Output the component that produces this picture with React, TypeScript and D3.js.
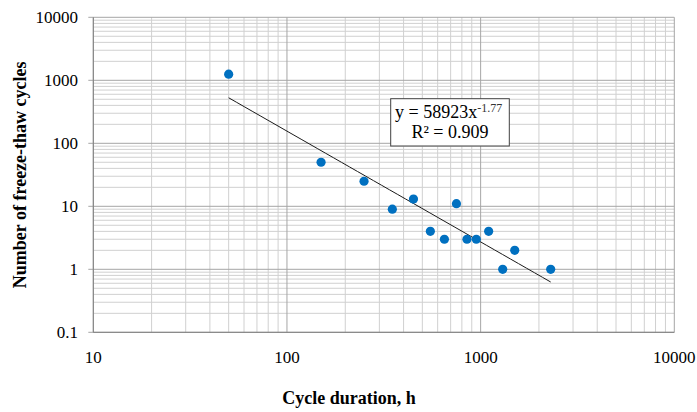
import React from "react";
import * as d3 from "d3";

// Cycle duration (h) and the number of freeze-thaw cycles observed
const cycleDuration = [50, 150, 250, 350, 450, 550, 650, 750, 850, 950, 1100, 1300, 1500, 2300];
const freezeThawCycles = [1250, 50, 25, 9, 13, 4, 3, 11, 3, 3, 4, 1, 2, 1];

const xTicks = [10, 100, 1000, 10000];
const yTicks = [0.1, 1, 10, 100, 1000, 10000];

const equationMain = "y = 58923x";
const equationExp = "-1.77";
const rSquaredText = "R² = 0.909";

const xTitle = "Cycle duration, h";
const yTitle = "Number of freeze-thaw cycles";

const W = 697;
const H = 412;
const plot = { left: 93.3, right: 674.3, top: 17.3, bottom: 332.3 };
const FONT = "Liberation Serif, Times New Roman, serif";

// Least-squares power-law fit (linear regression in log-log space)
function powerFit(xs: number[], ys: number[]) {
  const lx = xs.map(Math.log10);
  const ly = ys.map(Math.log10);
  const mx = d3.mean(lx)!;
  const my = d3.mean(ly)!;
  let sxy = 0;
  let sxx = 0;
  lx.forEach((v, i) => {
    sxy += (v - mx) * (ly[i] - my);
    sxx += (v - mx) * (v - mx);
  });
  const b = sxy / sxx;
  const a = Math.pow(10, my - b * mx);
  return { a, b };
}

export default function App() {
  const x = d3.scaleLog().domain([10, 10000]).range([plot.left, plot.right]);
  const y = d3.scaleLog().domain([0.1, 10000]).range([plot.bottom, plot.top]);

  const minorX: number[] = [];
  for (const d of [10, 100, 1000]) for (let k = 2; k <= 9; k++) minorX.push(d * k);
  const minorY: number[] = [];
  for (const d of [0.1, 1, 10, 100, 1000]) for (let k = 2; k <= 9; k++) minorY.push(d * k);

  const fit = powerFit(cycleDuration, freezeThawCycles);
  const x0 = d3.min(cycleDuration)!;
  const x1 = d3.max(cycleDuration)!;
  const trendPts: [number, number][] = d3
    .range(0, 41)
    .map((i) => x0 * Math.pow(x1 / x0, i / 40))
    .map((v) => [x(v), y(fit.a * Math.pow(v, fit.b))]);
  const trendPath = d3.line()(trendPts) || "";

  const minorColor = "#d0d0d0";
  const majorColor = "#a6a6a6";
  const textStyle = { fontFamily: FONT };

  return (
    <svg
      width={W}
      height={H}
      style={{ position: "absolute", left: 0, top: 0, background: "#fff" }}
    >
      <rect x={0} y={0} width={W} height={H} fill="#fff" />
      {/* minor grid */}
      {minorX.map((v) => (
        <line key={"mx" + v} x1={x(v)} x2={x(v)} y1={plot.top} y2={plot.bottom} stroke={minorColor} strokeWidth={1} />
      ))}
      {minorY.map((v) => (
        <line key={"my" + v} x1={plot.left} x2={plot.right} y1={y(v)} y2={y(v)} stroke={minorColor} strokeWidth={1} />
      ))}
      {/* major grid */}
      {xTicks.map((v) => (
        <line key={"gx" + v} x1={x(v)} x2={x(v)} y1={plot.top} y2={plot.bottom} stroke={majorColor} strokeWidth={1} />
      ))}
      {yTicks.map((v) => (
        <line key={"gy" + v} x1={plot.left - 5} x2={plot.right} y1={y(v)} y2={y(v)} stroke={majorColor} strokeWidth={1} />
      ))}
      {/* axes */}
      <line x1={plot.left} x2={plot.left} y1={plot.top} y2={plot.bottom} stroke="#808080" strokeWidth={1} />
      <line x1={plot.left} x2={plot.right} y1={plot.bottom} y2={plot.bottom} stroke="#808080" strokeWidth={1} />

      {/* tick labels */}
      {yTicks.map((v) => (
        <text key={"ty" + v} x={78} y={y(v) + 6} textAnchor="end" fontSize={17} fill="#000" style={textStyle}>
          {String(v)}
        </text>
      ))}
      {xTicks.map((v) => (
        <text key={"tx" + v} x={x(v)} y={362.5} textAnchor="middle" fontSize={17} fill="#000" style={textStyle}>
          {String(v)}
        </text>
      ))}

      {/* axis titles */}
      <text x={349} y={404} textAnchor="middle" fontSize={18} fontWeight="bold" fill="#000" style={textStyle}>
        {xTitle}
      </text>
      <text
        transform={`translate(26, ${(plot.top + plot.bottom) / 2}) rotate(-90)`}
        textAnchor="middle"
        fontSize={18}
        fontWeight="bold"
        fill="#000"
        style={textStyle}
      >
        {yTitle}
      </text>

      {/* trendline */}
      <path d={trendPath} fill="none" stroke="#1a1a1a" strokeWidth={1} />

      {/* data points */}
      {cycleDuration.map((v, i) => (
        <circle key={"p" + i} cx={x(v)} cy={y(freezeThawCycles[i])} r={4.6} fill="#0070c0" />
      ))}

      {/* equation label */}
      <rect x={390.7} y={98.7} width={118.6} height={47.3} fill="#fff" stroke="#404040" strokeWidth={1} />
      <text x={395} y={118.3} fontSize={18} fill="#000" style={textStyle}>
        {equationMain}
        <tspan dy={-6.5} fontSize={12} fill="#333">
          {equationExp}
        </tspan>
      </text>
      <text x={450} y={138.3} textAnchor="middle" fontSize={18} fill="#000" style={textStyle}>
        {rSquaredText}
      </text>
    </svg>
  );
}
